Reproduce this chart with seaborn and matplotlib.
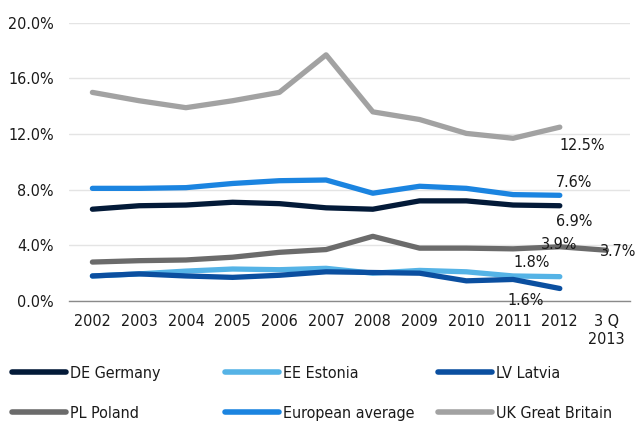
import numpy as np
import pandas as pd
import matplotlib
matplotlib.use("Agg")
import matplotlib.pyplot as plt
import seaborn as sns
from matplotlib.lines import Line2D

# data (unemployment-style rates, %)
periods = ["2002", "2003", "2004", "2005", "2006", "2007", "2008",
           "2009", "2010", "2011", "2012", "3 Q\n2013"]
germany = [6.6, 6.85, 6.9, 7.1, 7.0, 6.7, 6.6, 7.2, 7.2, 6.9, 6.85, np.nan]
estonia = [1.8, 1.95, 2.15, 2.3, 2.25, 2.35, 2.0, 2.2, 2.1, 1.8, 1.75, np.nan]
latvia = [1.8, 1.95, 1.8, 1.7, 1.85, 2.1, 2.05, 2.0, 1.45, 1.55, 0.9, np.nan]
poland = [2.8, 2.9, 2.95, 3.15, 3.5, 3.7, 4.65, 3.8, 3.8, 3.75, 3.9, 3.65]
eu_avg = [8.1, 8.1, 8.15, 8.45, 8.65, 8.7, 7.75, 8.25, 8.1, 7.65, 7.6, np.nan]
uk = [15.0, 14.4, 13.9, 14.4, 15.0, 17.7, 13.6, 13.05, 12.05, 11.7, 12.5, np.nan]

series_names = ["DE Germany", "EE Estonia", "LV Latvia",
                "PL Poland", "European average", "UK Great Britain"]
series_vals = [germany, estonia, latvia, poland, eu_avg, uk]
colors = ["#031a38", "#55b3e6", "#0b4fa0", "#6b6b6b", "#1b84e0", "#a2a2a2"]

# value labels: (series, period index, text)
labels = [("UK Great Britain", 10, "12.5%"),
          ("European average", 10, "7.6%"),
          ("DE Germany", 10, "6.9%"),
          ("PL Poland", 10, "3.9%"),
          ("PL Poland", 11, "3.7%"),
          ("EE Estonia", 10, "1.8%"),
          ("LV Latvia", 10, "1.6%")]
label_offsets = [(16, -13.5), (10, 9), (10, -11), (-0.7, 1.4),
                 (8, -1.2), (-20, 10), (-24.5, -9)]

rows = []
for name, vals in zip(series_names, series_vals):
    for i, v in enumerate(vals):
        rows.append({"series": name, "pos": i, "value": v})
df = pd.DataFrame(rows).dropna()

sns.set_style("white")
plt.rcParams["font.family"] = ["DejaVu Sans"]
plt.rcParams["font.stretch"] = "condensed"
txt = "#1a1a1a"
fs = 11.5

fig = plt.figure(figsize=(6.35, 4.23), dpi=100)
ax = fig.add_axes([0.1087, 0.2884, 0.8833, 0.6576])

sns.lineplot(data=df, x="pos", y="value", hue="series", hue_order=series_names,
             palette=colors, linewidth=3.8, legend=False, ax=ax,
             solid_capstyle="round", solid_joinstyle="round")

ax.set_xlim(-0.5, 11.5)
ax.set_ylim(0, 20)
ax.set_yticks([0, 4, 8, 12, 16, 20])
ax.set_yticklabels(["0.0%", "4.0%", "8.0%", "12.0%", "16.0%", "20.0%"])
ax.set_xticks(range(len(periods)))
ax.set_xticklabels(periods, linespacing=1.25)
ax.tick_params(axis="both", length=0, labelsize=fs, labelcolor=txt)
ax.tick_params(axis="y", pad=11)
ax.tick_params(axis="x", pad=9)
ax.grid(axis="y", color="#e4e4e4", linewidth=1.0)
ax.set_axisbelow(True)
for s in ["top", "right", "left"]:
    ax.spines[s].set_visible(False)
ax.spines["bottom"].set_color("#8a8a8a")
ax.spines["bottom"].set_linewidth(1.0)
ax.set_xlabel("")
ax.set_ylabel("")

lookup = dict(zip(series_names, series_vals))
for (name, idx, text), (dx, dy) in zip(labels, label_offsets):
    ax.annotate(text, (idx, lookup[name][idx]), xytext=(dx, dy),
                textcoords="offset points", ha="center", va="center",
                fontsize=fs, color=txt, annotation_clip=False)

# legend: three fixed-width columns of two rows
col_x = [12 / 635, 225 / 635, 438 / 635]
for c in range(3):
    hs, ls = [], []
    for r in range(2):
        k = r * 3 + c
        hs.append(Line2D([], [], color=colors[k], linewidth=4.0,
                         solid_capstyle="round"))
        ls.append(series_names[k])
    leg = fig.legend(hs, ls, loc="upper left", bbox_to_anchor=(col_x[c], 1 - 366 / 423),
                     frameon=False, fontsize=fs, handlelength=3.4,
                     handletextpad=0.25, borderpad=0, borderaxespad=0,
                     labelspacing=1.55)
    for t in leg.get_texts():
        t.set_color(txt)

fig.savefig("out.png", dpi=100)
